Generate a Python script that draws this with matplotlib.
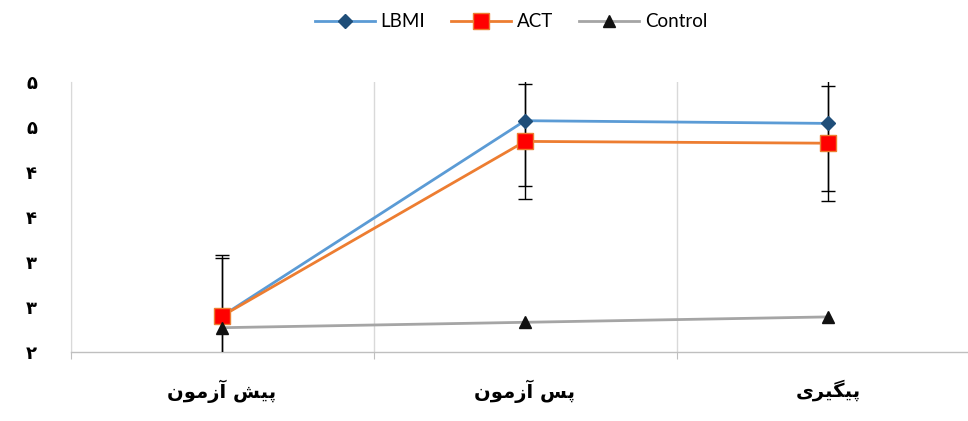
import numpy as np
import matplotlib
matplotlib.use("Agg")
import matplotlib.pyplot as plt
from matplotlib.ticker import FuncFormatter, FixedLocator

# ---- data ----
categories = ["پیش آزمون", "پس آزمون", "پیگیری"]
series_names = ["LBMI", "ACT", "Control"]
lbmi = [2.40, 4.57, 4.54]
lbmi_sd = [0.68, 0.73, 0.75]
act = [2.40, 4.34, 4.32]
act_sd = [0.65, 0.64, 0.64]
control = [2.27, 2.33, 2.39]
y_ticks = [2.0, 2.5, 3.0, 3.5, 4.0, 4.5, 5.0]

# ---- minimal Persian shaping (presentation forms, visual order) ----
FORMS = {
    'پ': ('\uFB56', '\uFB57', '\uFB58', '\uFB59'),
    'ی': ('\uFBFC', '\uFBFD', '\uFBFE', '\uFBFF'),
    'ش': ('\uFEB5', '\uFEB6', '\uFEB7', '\uFEB8'),
    'س': ('\uFEB1', '\uFEB2', '\uFEB3', '\uFEB4'),
    'آ': ('\uFE81', '\uFE82', None, None),
    'ز': ('\uFEAF', '\uFEB0', None, None),
    'م': ('\uFEE1', '\uFEE2', '\uFEE3', '\uFEE4'),
    'و': ('\uFEED', '\uFEEE', None, None),
    'ن': ('\uFEE5', '\uFEE6', '\uFEE7', '\uFEE8'),
    'گ': ('\uFB92', '\uFB93', '\uFB94', '\uFB95'),
    'ر': ('\uFEAD', '\uFEAE', None, None),
}


def shape(text):
    out = []
    n = len(text)
    for i, ch in enumerate(text):
        if ch not in FORMS:
            out.append(ch)
            continue
        f = FORMS[ch]
        prev = text[i - 1] if i > 0 else None
        nxt = text[i + 1] if i < n - 1 else None
        prev_join = prev in FORMS and FORMS[prev][2] is not None
        next_join = nxt in FORMS and f[2] is not None
        if prev_join and next_join:
            out.append(f[3])
        elif prev_join:
            out.append(f[1])
        elif next_join:
            out.append(f[2])
        else:
            out.append(f[0])
    return "".join(reversed(out))


PERSIAN_DIGITS = "۰۱۲۳۴۵۶۷۸۹"


def fa_num(v, pos=None):
    k = int(np.floor(v + 0.5 + 1e-9))
    return "".join(PERSIAN_DIGITS[int(d)] for d in str(k))


fig = plt.figure(figsize=(9.68, 4.21), dpi=100)
ax = fig.add_axes([70.5 / 968, 69 / 421, 909 / 968, 270 / 421])

x = np.arange(len(categories))

l1, = ax.plot(x, lbmi, color="#5B9BD5", lw=2.0, marker="D", ms=7,
              mfc="#1F4E79", mec="#1F4E79", zorder=4, label=series_names[0])
l2, = ax.plot(x, act, color="#ED7D31", lw=2.0, marker="s", ms=11,
              mfc="#FF0000", mec="#ED7D31", mew=1.0, zorder=4, label=series_names[1])
l3, = ax.plot(x, control, color="#A5A5A5", lw=2.0, marker="^", ms=8,
              mfc="#111111", mec="#111111", zorder=4, label=series_names[2])

ax.errorbar(x, lbmi, yerr=lbmi_sd, fmt="none", ecolor="black", elinewidth=1.0,
            capsize=5, capthick=1.0, zorder=3)
ax.errorbar(x, act, yerr=act_sd, fmt="none", ecolor="black", elinewidth=1.0,
            capsize=5, capthick=1.0, zorder=3)

ax.set_xlim(-0.5, len(categories) - 0.5)
ax.set_ylim(2.0, 5.0)
ax.yaxis.set_major_locator(FixedLocator(y_ticks))
ax.yaxis.set_major_formatter(FuncFormatter(fa_num))

# category boundaries as gridlines/ticks
bounds = np.arange(len(categories) + 1) - 0.5
ax.set_xticks(bounds)
ax.set_xticklabels([])
ax.tick_params(axis="x", which="major", length=5, color="#BFBFBF", direction="out")
ax.set_xticks(x, minor=True)
ax.set_xticklabels([shape(c) for c in categories], minor=True,
                   fontsize=14, fontweight="bold", family="DejaVu Sans")
ax.tick_params(axis="x", which="minor", length=0, pad=20)
ax.grid(axis="x", which="major", color="#D9D9D9", lw=1.0)

ax.tick_params(axis="y", length=0, pad=24, labelsize=13)
for t in ax.get_yticklabels():
    t.set_fontweight("bold")
    t.set_family("DejaVu Sans")

for s in ["top", "right"]:
    ax.spines[s].set_visible(False)
ax.spines["left"].set_color("#D9D9D9")
ax.spines["bottom"].set_color("#BFBFBF")
ax.spines["bottom"].set_linewidth(1.0)

fig.legend(handles=[l1, l2, l3], loc="center", bbox_to_anchor=(0.528, 0.948),
           ncol=3, frameon=False, handlelength=3.2, columnspacing=1.4,
           handletextpad=0.3, prop={"family": "Lato", "size": 13.5})

fig.savefig("out.png", dpi=100)
